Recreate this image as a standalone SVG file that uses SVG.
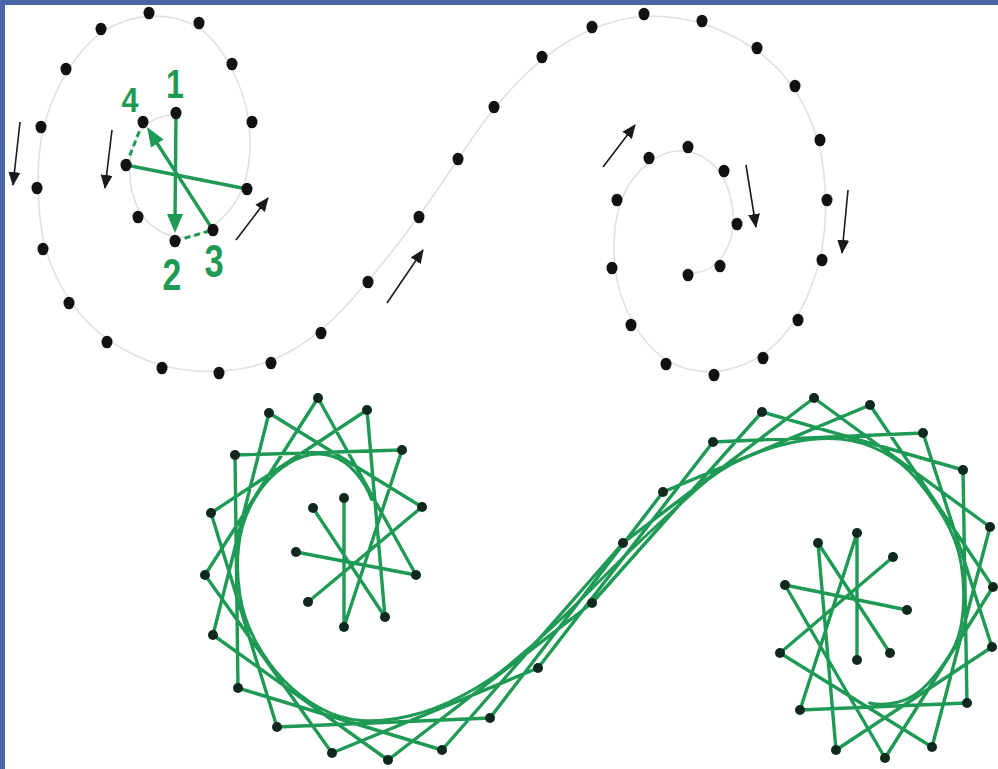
<svg xmlns="http://www.w3.org/2000/svg" width="998" height="769" viewBox="0 0 998 769">
<style>
.guide{fill:none;stroke:#e0e0e0;stroke-width:1.6}
.blk{fill:none;stroke:#1a1a1a;stroke-width:1.6}
.g{fill:none;stroke:#1f9a55;stroke-width:3.4;stroke-linecap:round}
.env{fill:none;stroke:#1f9a55;stroke-width:3;stroke-linecap:round}
.gd{fill:none;stroke:#1f9a55;stroke-width:3;stroke-dasharray:6 4}
.gf{fill:#1f9a55}
.num{font-family:"Liberation Sans",Arial,sans-serif;font-weight:bold;fill:#1f9a55;text-anchor:middle}
.dt{fill:#111}
.dg{fill:#0f2a1c}
</style>
<defs>
<marker id="ah" markerUnits="userSpaceOnUse" markerWidth="16" markerHeight="14" refX="13" refY="6" orient="auto">
<path d="M0,0 L14,6 L0,12 Z" fill="#1a1a1a"/>
</marker>
<ellipse id="d" rx="5.5" ry="6.3"/>
<circle id="s" r="5"/>
</defs>
<rect x="0" y="0" width="998" height="769" fill="#fff"/>
<rect x="0" y="0" width="998" height="5" fill="#4a66a8"/>
<rect x="0" y="0" width="5" height="769" fill="#4a66a8"/>

<g id="guide">
<path class="guide" d="M176,113 L159.5,117.5 Q143,122 134.5,143.5 Q126,165 132,191 Q138,217 156.5,229 Q175,241 194,235.5 Q213,230 230,209.5 Q247,189 249.5,155.5 Q252,122 242,93 Q232,64 215.5,43.5 Q199,23 174,18 Q149,13 125,21 Q101,29 83.5,49 Q66,69 53.5,98 Q41,127 39,157.5 Q37,188 40,218.5 Q43,249 56,276 Q69,303 88,322.5 Q107,342 134.5,355 Q162,368 190.5,370.5 Q219,373 245,368 Q271,363 296,348 Q321,333 344.5,307.5 Q368,282 393.5,249.5 Q419,217 438.5,188 Q458,159 476,133 Q494,107 518,82 Q542,57 567,42 Q592,27 618,20.5 Q644,14 673,17.5 Q702,21 729.5,34.5 Q757,48 776,67 Q795,86 807.5,113 Q820,140 823.5,170 Q827,200 824.5,230 Q822,260 810,290 Q798,320 780.5,339 Q763,358 738.5,366.5 Q714,375 690,369.5 Q666,364 648.5,344.5 Q631,325 621.5,296.5 Q612,268 614.5,234 Q617,200 633,179 Q649,158 668.5,152.5 Q688,147 706,159 Q724,171 730.5,197.5 Q737,224 728.5,245 Q720,266 704,270.5 L688,275"/>
</g>

<g id="direction-arrows">
<line class="blk" x1="20" y1="122" x2="13" y2="185" marker-end="url(#ah)"/>
<line class="blk" x1="112" y1="130" x2="105" y2="188" marker-end="url(#ah)"/>
<line class="blk" x1="236" y1="240" x2="268" y2="198" marker-end="url(#ah)"/>
<line class="blk" x1="387" y1="303" x2="423" y2="250" marker-end="url(#ah)"/>
<line class="blk" x1="603" y1="167" x2="635" y2="125" marker-end="url(#ah)"/>
<line class="blk" x1="746" y1="165" x2="756" y2="227" marker-end="url(#ah)"/>
<line class="blk" x1="848" y1="190" x2="842" y2="253" marker-end="url(#ah)"/>
</g>

<g id="example-stitches">
<line class="g" x1="176" y1="113" x2="175" y2="222"/>
<polygon class="gf" points="175,233 167,214 183,214"/>
<line class="gd" x1="175" y1="241" x2="213" y2="230"/>
<line class="g" x1="213" y1="230" x2="155" y2="140"/>
<polygon class="gf" points="147,127 163.5,139.5 151,147.5"/>
<line class="gd" x1="143" y1="122" x2="126" y2="165"/>
<line class="g" x1="126" y1="165" x2="247" y2="189"/>
</g>

<g id="top-dots" class="dt">
<use href="#d" x="176" y="113"/><use href="#d" x="143" y="122"/><use href="#d" x="126" y="165"/><use href="#d" x="138" y="217"/><use href="#d" x="175" y="241"/><use href="#d" x="213" y="230"/><use href="#d" x="247" y="189"/><use href="#d" x="252" y="122"/><use href="#d" x="232" y="64"/><use href="#d" x="199" y="23"/><use href="#d" x="149" y="13"/><use href="#d" x="101" y="29"/><use href="#d" x="66" y="69"/><use href="#d" x="41" y="127"/><use href="#d" x="37" y="188"/><use href="#d" x="43" y="249"/><use href="#d" x="69" y="303"/><use href="#d" x="107" y="342"/><use href="#d" x="162" y="368"/><use href="#d" x="219" y="373"/><use href="#d" x="271" y="363"/><use href="#d" x="321" y="333"/><use href="#d" x="368" y="282"/><use href="#d" x="419" y="217"/><use href="#d" x="458" y="159"/><use href="#d" x="494" y="107"/><use href="#d" x="542" y="57"/><use href="#d" x="592" y="27"/><use href="#d" x="644" y="14"/><use href="#d" x="702" y="21"/><use href="#d" x="757" y="48"/><use href="#d" x="795" y="86"/><use href="#d" x="820" y="140"/><use href="#d" x="827" y="200"/><use href="#d" x="822" y="260"/><use href="#d" x="798" y="320"/><use href="#d" x="763" y="358"/><use href="#d" x="714" y="375"/><use href="#d" x="666" y="364"/><use href="#d" x="631" y="325"/><use href="#d" x="612" y="268"/><use href="#d" x="617" y="200"/><use href="#d" x="649" y="158"/><use href="#d" x="688" y="147"/><use href="#d" x="724" y="171"/><use href="#d" x="737" y="224"/><use href="#d" x="720" y="266"/><use href="#d" x="688" y="275"/>
</g>

<g id="labels">
<text class="num" x="0" y="0" font-size="40" transform="translate(175,98) scale(0.8,1)">1</text>
<text class="num" x="0" y="0" font-size="36" transform="translate(130,112) scale(0.85,1)">4</text>
<text class="num" x="0" y="0" font-size="45" transform="translate(172,290) scale(0.75,1)">2</text>
<text class="num" x="0" y="0" font-size="46" transform="translate(214,277) scale(0.75,1)">3</text>
</g>

<g id="finished-stitches">
<path class="g" d="M344,498 L344,627 M313,508 L385,617 M296,552 L416,575 M308,602 L422,507 M344,627 L402,450 M385,617 L367,410 M416,575 L318,398 M422,507 L269,413 M402,450 L235,455 M367,410 L211,513 M318,398 L205,575 M269,413 L213,635 M235,455 L238,688 M211,513 L277,727 M205,575 L332,753 M213,635 L388,760 M238,688 L442,750 M277,727 L490,718 M332,753 L538,668 M388,760 L592,603 M442,750 L623,543 M490,718 L663,492 M538,668 L713,442 M592,603 L762,412 M623,543 L814,398 M663,492 L870,405 M713,442 L923,433 M762,412 L963,470 M814,398 L990,527 M870,405 L993,587 M923,433 L992,647 M963,470 L967,703 M990,527 L932,747 M993,587 L885,758 M992,647 L836,750 M967,703 L800,710 M932,747 L780,653 M885,758 L785,585 M836,750 L818,543 M800,710 L857,533 M780,653 L893,557 M785,585 L907,610 M818,543 L890,653 M857,533 L857,660"/>
<path class="env" d="M371.5,499.5 Q367,486 356,473 Q345,460 331.5,456 Q318,452 303.5,456.5 Q289,461 275,473.5 Q261,486 251,505 Q241,524 238.5,547.5 Q236,571 240,595.5 Q244,620 256,642 Q268,664 284,680.5 Q300,697 320,708 Q340,719 361.5,720.5 Q383,722 409,716 Q435,710 462.5,695.5 Q490,681 511,663.5 Q532,646 554,625.5 Q576,605 600.5,580 Q625,555 651,531 Q677,507 697.5,488.5 Q718,470 742,459 Q766,448 792,442.5 Q818,437 840,439 Q862,441 882,451.5 Q902,462 916.5,479 Q931,496 944,518 Q957,540 961,563 Q965,586 963,611.5 Q961,637 950,654.5 Q939,672 926.5,685 Q914,698 898.5,702 Q883,706 869.5,703"/>
</g>

<g id="bottom-dots" class="dg">
<use href="#s" x="344" y="498"/><use href="#s" x="313" y="508"/><use href="#s" x="296" y="552"/><use href="#s" x="308" y="602"/><use href="#s" x="344" y="627"/><use href="#s" x="385" y="617"/><use href="#s" x="416" y="575"/><use href="#s" x="422" y="507"/><use href="#s" x="402" y="450"/><use href="#s" x="367" y="410"/><use href="#s" x="318" y="398"/><use href="#s" x="269" y="413"/><use href="#s" x="235" y="455"/><use href="#s" x="211" y="513"/><use href="#s" x="205" y="575"/><use href="#s" x="213" y="635"/><use href="#s" x="238" y="688"/><use href="#s" x="277" y="727"/><use href="#s" x="332" y="753"/><use href="#s" x="388" y="760"/><use href="#s" x="442" y="750"/><use href="#s" x="490" y="718"/><use href="#s" x="538" y="668"/><use href="#s" x="592" y="603"/><use href="#s" x="623" y="543"/><use href="#s" x="663" y="492"/><use href="#s" x="713" y="442"/><use href="#s" x="762" y="412"/><use href="#s" x="814" y="398"/><use href="#s" x="870" y="405"/><use href="#s" x="923" y="433"/><use href="#s" x="963" y="470"/><use href="#s" x="990" y="527"/><use href="#s" x="993" y="587"/><use href="#s" x="992" y="647"/><use href="#s" x="967" y="703"/><use href="#s" x="932" y="747"/><use href="#s" x="885" y="758"/><use href="#s" x="836" y="750"/><use href="#s" x="800" y="710"/><use href="#s" x="780" y="653"/><use href="#s" x="785" y="585"/><use href="#s" x="818" y="543"/><use href="#s" x="857" y="533"/><use href="#s" x="893" y="557"/><use href="#s" x="907" y="610"/><use href="#s" x="890" y="653"/><use href="#s" x="857" y="660"/>
</g>
</svg>
